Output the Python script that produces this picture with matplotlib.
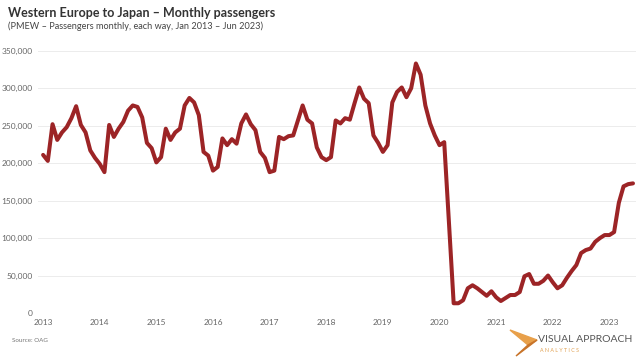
import matplotlib
matplotlib.use("Agg")
import matplotlib.pyplot as plt
from matplotlib.patches import Polygon
import numpy as np

# Monthly passengers, Jan 2013 - Jun 2023
years = list(range(2013, 2024))
y2013 = [211000, 203000, 252000, 231000, 241000, 248000, 260000, 276000, 251000, 241000, 217000, 207000]
y2014 = [199000, 188000, 251000, 235000, 246000, 255000, 270000, 277000, 275000, 261000, 227000, 220000]
y2015 = [201000, 208000, 246000, 231000, 241000, 246000, 277000, 287000, 281000, 264000, 215000, 210000]
y2016 = [190000, 195000, 233000, 224000, 232000, 226000, 253000, 265000, 252000, 244000, 215000, 207000]
y2017 = [188000, 190000, 235000, 232000, 236000, 237000, 257000, 277000, 258000, 253000, 221000, 208000]
y2018 = [204000, 208000, 257000, 253000, 260000, 258000, 280000, 301000, 286000, 280000, 237000, 227000]
y2019 = [215000, 224000, 281000, 295000, 301000, 288000, 300000, 333000, 318000, 277000, 253000, 237000]
y2020 = [224000, 228000, 121000, 13000, 13000, 17000, 33000, 37000, 33000, 28000, 23000, 29000]
y2021 = [21000, 16000, 20000, 24000, 24000, 28000, 49000, 52000, 39000, 39000, 43000, 50000]
y2022 = [41000, 33000, 37000, 47000, 56000, 64000, 80000, 84000, 86000, 95000, 100000, 104000]
y2023 = [104000, 108000, 147000, 169000, 172000, 173000]

values = y2013 + y2014 + y2015 + y2016 + y2017 + y2018 + y2019 + y2020 + y2021 + y2022 + y2023
x = 2013 + np.arange(len(values)) / 12.0

ytick_vals = [0, 50000, 100000, 150000, 200000, 250000, 300000, 350000]
ytick_labels = ["0", "50,000", "100,000", "150,000", "200,000", "250,000", "300,000", "350,000"]

plt.rcParams['font.family'] = ['Lato', 'DejaVu Sans']

fig = plt.figure(figsize=(6.4, 3.61), dpi=100)
ax = fig.add_axes([38/640, 48/361, 598/640, 266/361])

ax.plot(x, values, color='#9c2426', linewidth=2.9, solid_joinstyle='round', solid_capstyle='round', zorder=3)

ax.set_xlim(2012.91, 2023.47)
ax.set_ylim(0, 355000)
ax.set_yticks(ytick_vals)
ax.set_yticklabels(ytick_labels)
ax.set_xticks(years)
ax.set_xticklabels([str(y) for y in years])
ax.tick_params(axis='both', length=0, labelsize=6, colors='#666666')
ax.tick_params(axis='y', pad=4)
ax.tick_params(axis='x', pad=4)
for lab in ax.get_yticklabels():
    lab.set_horizontalalignment('right')
ax.grid(axis='y', color='#ececec', linewidth=0.7)
ax.grid(axis='x', visible=False)
ax.set_axisbelow(True)
for s in ax.spines.values():
    s.set_visible(False)

fig.text(8/640, 1 - 13/361, "Western Europe to Japan \u2013 Monthly passengers", fontsize=9,
         fontweight='bold', color='#333333', va='center', ha='left')
fig.text(8/640, 1 - 26/361, "(PMEW \u2013 Passengers monthly, each way, Jan 2013 \u2013 Jun 2023)",
         fontsize=6.6, color='#444444', va='center', ha='left')
fig.text(12/640, 1 - 341/361, "Source: OAG", fontsize=4.5, color='#777777', va='center', ha='left')

# Logo
def px(xp, yp):
    return (xp/640, 1 - yp/361)
tri1 = Polygon([px(510, 330), px(537, 340), px(528, 345)], closed=True, transform=fig.transFigure,
               color='#e8a04a', zorder=5)
tri2 = Polygon([px(528, 345), px(537, 340), px(516, 356)], closed=True, transform=fig.transFigure,
               color='#c8742a', zorder=5)
fig.patches.extend([tri1, tri2])
fig.text(538/640, 1 - 340/361, "VISUAL APPROACH", fontsize=7.5, color='#555555', va='center', ha='left')
fig.text(540/640, 1 - 351/361, "A N A L Y T I C S", fontsize=3.8, color='#e0a050', va='center', ha='left')

fig.savefig("out.png", dpi=100, facecolor='white')
